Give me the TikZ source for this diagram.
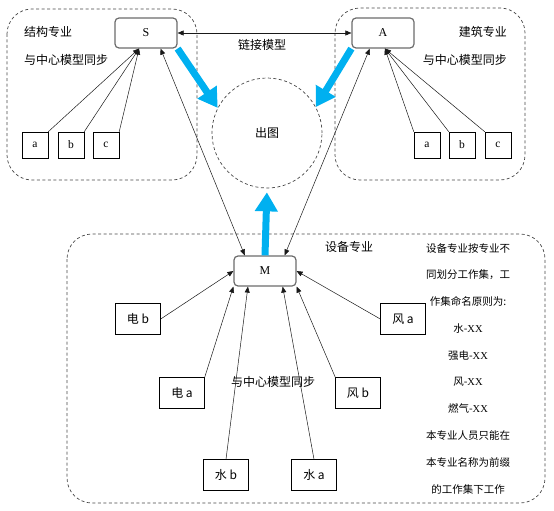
\documentclass[tikz,border=0pt]{standalone}
\usepackage{fontspec}
\setmainfont{Noto Sans CJK SC}
\newfontfamily\latinserif{Liberation Serif}
\usetikzlibrary{arrows.meta,calc}
\definecolor{flowblue}{HTML}{00B0F0}
\tikzset{
  group/.style={draw=gray!55!black, line width=0.7pt, dash pattern=on 3pt off 2.5pt, rounded corners=25pt},
  model/.style={draw=gray!85!black, line width=1.2pt, rounded corners=4pt, minimum width=62pt, minimum height=30pt, font=\latinserif\fontsize{12}{13}\selectfont},
  part/.style={draw, minimum width=26pt, minimum height=26pt, inner sep=1pt, font=\latinserif\fontsize{11.5}{12}\selectfont},
  sub/.style={draw, minimum width=45pt, minimum height=31pt, inner sep=1pt, font=\fontsize{12}{14}\selectfont},
  link/.style={-{Triangle[length=6pt,width=5pt]}, gray!20!black, line width=0.5pt},
  flow/.style={-{Triangle[length=19pt,width=22pt]}, flowblue, line width=7pt},
  label/.style={font=\fontsize{12}{14}\selectfont, inner sep=0pt},
  note/.style={font=\fontsize{10.5}{12}\selectfont, inner sep=0pt}
}
\begin{document}
\begin{tikzpicture}[x=1pt, y=-1pt]
  \useasboundingbox (0,0) rectangle (554,511);
  % dashed groups
  \draw[group] (7,9) rectangle (197,180);
  \draw[group] (335,8) rectangle (525,180);
  \draw[group] (67,234) rectangle (545,503);
  \node[circle, draw=gray!55!black, line width=0.7pt, dash pattern=on 3pt off 2.5pt, minimum size=110pt, label] (out) at (267,133) {出图};
  % central models
  \node[model] (S) at (146,33) {S};
  \node[model] (A) at (383,33) {A};
  \node[model] (M) at (265,271) {M};
  % group labels
  \node[label, anchor=west] (sname) at (24,32) {结构专业};
  \node[label, anchor=west] (ssync) at (24,60) {与中心模型同步};
  \node[label, anchor=east] (aname) at (507,32) {建筑专业};
  \node[label, anchor=east] (async) at (507,60) {与中心模型同步};
  \node[label] (linkname) at (262,45) {链接模型};
  \node[label] (mname) at (349,247) {设备专业};
  \node[label] (msync) at (273,382) {与中心模型同步};
  % structure and architecture parts
  \foreach \n/\x in {a/35, b/71, c/106} {
    \node[part] (s\n) at (\x,145) {\n};
    \draw[link] (s\n.north east) -- ($(S.south west)!0.39!(S.south east)$);
  }
  \foreach \n/\x in {a/427, b/462, c/498} {
    \node[part] (a\n) at (\x,145) {\n};
    \draw[link] (a\n.north west) -- ($(A.south west)!0.53!(A.south east)$);
  }
  % MEP parts
  \node[sub] (eb) at (138,319) {电 b};
  \node[sub] (ea) at (182,393) {电 a};
  \node[sub] (wb) at (226,475) {水 b};
  \node[sub] (wa) at (314,475) {水 a};
  \node[sub] (fb) at (358,393) {风 b};
  \node[sub] (fa) at (403,319) {风 a};
  \draw[link] (eb.east) -- (M.west);
  \draw[link] (ea.north east) -- (M.south west);
  \draw[link] (wb.north) -- ($(M.south west)!0.23!(M.south east)$);
  \draw[link] (wa.north) -- ($(M.south west)!0.78!(M.south east)$);
  \draw[link] (fb.north west) -- (M.south east);
  \draw[link] (fa.west) -- (M.east);
  % links between models
  \draw[link, {Triangle[length=6pt,width=5pt]}-{Triangle[length=6pt,width=5pt]}] (S.east) -- (A.west);
  \draw[link, {Triangle[length=6pt,width=5pt]}-{Triangle[length=6pt,width=5pt]}] ($(M.north west)!0.18!(M.north east)$) -- ($(S.south west)!0.73!(S.south east)$);
  \draw[link, {Triangle[length=6pt,width=5pt]}-{Triangle[length=6pt,width=5pt]}] ($(M.north west)!0.81!(M.north east)$) -- ($(A.south west)!0.29!(A.south east)$);
  % output flows
  \draw[flow] (S.south east) -- (out.153);
  \draw[flow] (A.south west) -- (out.28);
  \draw[flow, shorten >=4pt] (M.north) -- (out.south);
  % workset note
  \foreach \t [count=\i] in {设备专业按专业不, 同划分工作集，工, 作集命名原则为:, 水-{\latinserif XX}, 强电-{\latinserif XX}, 风-{\latinserif XX}, 燃气-{\latinserif XX}, 本专业人员只能在, 本专业名称为前缀, 的工作集下工作}
    \node[note] (note\i) at (468,{248+26.8*(\i-1)}) {\t};
\end{tikzpicture}
\end{document}
